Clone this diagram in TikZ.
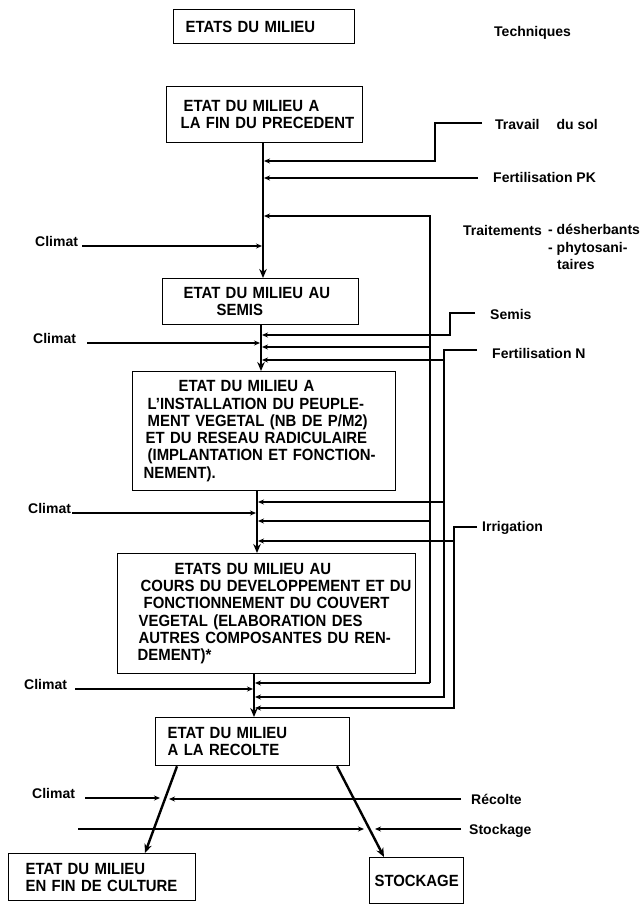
\documentclass[tikz,border=0pt]{standalone}
\usepackage{fontspec}
\setmainfont{Liberation Sans}
\newfontfamily\bxfam{Liberation Sans}[FakeStretch=0.92]
\usetikzlibrary{arrows.meta,calc}
\newcommand\bxfont{\bxfam\fontsize{16.2}{17.3}\selectfont\bfseries}
\newcommand\lbfont{\fontsize{14}{17.5}\selectfont\bfseries}

\begin{document}
\begin{tikzpicture}[x=1pt,y=-1pt,
  box/.style={draw, line width=1.3pt, inner sep=0pt, anchor=north west, align=left, font=\bxfont},
  lbl/.style={inner sep=0pt, font=\lbfont, text depth=0pt, text height=10pt, anchor=west},
  clim/.style={inner sep=0pt, font=\lbfont, anchor=base west},
  flow/.style={line width=2.4pt, -{Stealth[length=9pt,width=7.5pt]}},
  feed/.style={line width=1.2pt, shorten >=1pt, -{Stealth[length=6pt,width=5pt]}},
]
\useasboundingbox (0,0) rectangle (644,910);
\fill[white] (0,0) rectangle (644,910);

% ---- headings ----
\node[box, minimum width=181pt, minimum height=34pt, text width=181pt] (hdr) at (173,9)
  {\mbox{\hspace*{12pt}ETATS DU MILIEU}};
\node[lbl] (tech) at (494,31) {Techniques};

% ---- states of the field ----
\node[box, minimum width=196pt, minimum height=56pt, text width=196pt] (b2) at (166,86)
  {\mbox{\hspace*{17pt}ETAT DU MILIEU A}\\
   \mbox{\hspace*{14pt}LA FIN DU PRECEDENT}};
\node[box, minimum width=196pt, minimum height=46pt, text width=196pt] (b3) at (162,278)
  {\mbox{\hspace*{21pt}ETAT DU MILIEU AU}\\
   \mbox{\hspace*{54pt}SEMIS}};
\node[box, minimum width=263pt, minimum height=119pt, text width=263pt] (b4) at (132,371)
  {\mbox{\hspace*{46pt}ETAT DU MILIEU A}\\
   \mbox{\hspace*{15pt}L’INSTALLATION DU PEUPLE-}\\
   \mbox{\hspace*{15pt}MENT VEGETAL (NB DE P/M2)}\\
   \mbox{\hspace*{13pt}ET DU RESEAU RADICULAIRE}\\
   \mbox{\hspace*{15pt}(IMPLANTATION ET FONCTION-}\\
   \mbox{\hspace*{11pt}NEMENT).}};
\node[box, minimum width=298pt, minimum height=120pt, text width=298pt] (b5) at (117,553)
  {\mbox{\hspace*{57pt}ETATS DU MILIEU AU}\\
   \mbox{\hspace*{23pt}COURS DU DEVELOPPEMENT ET DU}\\
   \mbox{\hspace*{26pt}FONCTIONNEMENT DU COUVERT}\\
   \mbox{\hspace*{21pt}VEGETAL (ELABORATION DES}\\
   \mbox{\hspace*{21pt}AUTRES COMPOSANTES DU REN-}\\
   \mbox{\hspace*{20pt}DEMENT)*}};
\node[box, minimum width=194pt, minimum height=48pt, text width=194pt] (b6) at (155,717)
  {\mbox{\hspace*{12pt}ETAT DU MILIEU}\\
   \mbox{\hspace*{12pt}A LA RECOLTE}};
\node[box, minimum width=187pt, minimum height=47pt, text width=187pt] (b7) at (8,853)
  {\mbox{\hspace*{17pt}ETAT DU MILIEU}\\
   \mbox{\hspace*{17pt}EN FIN DE CULTURE}};
\node[box, align=center, minimum width=94pt, minimum height=46pt] (bst) at (369,857) {STOCKAGE};

% ---- main chain ----
\coordinate (m1) at (263,0);
\coordinate (m2) at (261,0);
\coordinate (m3) at (257,0);
\coordinate (m4) at (254,0);
\draw[flow] (b2.south -| m1) -- (b3.north -| m1);
\draw[flow] (b3.south -| m2) -- (b4.north -| m2);
\draw[flow] (b4.south -| m3) -- (b5.north -| m3);
\draw[flow] (b5.south -| m4) -- (b6.north -| m4);

% ---- climate inputs ----
\node[clim] (cl1) at (35,246) {Climat};
\node[clim] (cl2) at (33,343) {Climat};
\node[clim] (cl3) at (28,513) {Climat};
\node[clim] (cl4) at (24,689) {Climat};
\node[clim] (cl5) at (32,798) {Climat};
\draw[feed] ([xshift=4pt]cl1.base east) -- (cl1.base -| m1);
\draw[feed] ([xshift=11pt]cl2.base east) -- (cl2.base -| m2);
\draw[feed] ([xshift=1pt]cl3.base east) -- (cl3.base -| m3);
\draw[feed] ([xshift=8pt]cl4.base east) -- (cl4.base -| m4);

% ---- techniques ----
\node[lbl] (trav) at (495,124) {Travail\hspace{17pt}du sol};
\node[lbl] (fpk) at (493,177) {Fertilisation PK};
\node[lbl] (trt) at (463,230) {Traitements};
\node[inner sep=0pt, font=\lbfont, align=left, anchor=north west] (trtl) at (548,224.5)
  {- désherbants\\- phytosani-\\\hspace*{9pt}taires};
\node[lbl] (sem) at (490,314) {Semis};
\node[lbl] (fn) at (492,353) {Fertilisation N};
\node[lbl] (irr) at (482,526) {Irrigation};

% soil tillage
\coordinate (tv0) at (482,123);
\coordinate (tv1) at (435,161);
\draw[feed] (tv0) -| (tv1) -- (tv1 -| m1);
% PK fertilisation
\coordinate (fp0) at (478,178);
\draw[feed] (fp0) -- (fp0 -| m1);
% treatments
\coordinate (tr0) at (430,216);
\coordinate (trA) at (430,347);
\coordinate (trB) at (430,521);
\coordinate (tr1) at (430,683);
\draw[feed] (tr1) -- (tr0) -- (tr0 -| m1);
\draw[feed] (trA) -- (trA -| m2);
\draw[feed] (trB) -- (trB -| m3);
\draw[feed] (tr1) -- (tr1 -| m4);
% sowing
\coordinate (se0) at (475,313);
\coordinate (se1) at (450,335);
\draw[feed] (se0) -| (se1) -- (se1 -| m2);
% N fertilisation
\coordinate (fn0) at (477,350);
\coordinate (fnA) at (444,360);
\coordinate (fnB) at (444,502);
\coordinate (fn1) at (444,697);
\draw[feed] (fn0) -| (fn1) -- (fn1 -| m4);
\draw[feed] (fnA) -- (fnA -| m2);
\draw[feed] (fnB) -- (fnB -| m3);
% irrigation
\coordinate (ir0) at (477,527);
\coordinate (irA) at (454,541);
\coordinate (ir1) at (454,708);
\draw[feed] (ir0) -| (ir1) -- (ir1 -| m4);
\draw[feed] (irA) -- (irA -| m3);

% ---- harvest and storage ----
\coordinate (dl0) at (177,0);
\coordinate (dl1) at (145,0);
\coordinate (dr0) at (337,0);
\coordinate (dr1) at (384,0);
\draw[flow] (b6.south -| dl0) -- (b7.north -| dl1);
\draw[flow] (b6.south -| dr0) -- (bst.north -| dr1);

\node[lbl] (rec) at (471,799) {Récolte};
\node[lbl] (stk) at (469,829) {Stockage};
\coordinate (xl5) at (161,798);
\coordinate (xr5) at (168,799);
\draw[feed] ([xshift=10pt]cl5.base east) -- (xl5);
\draw[feed] ([xshift=-10pt]rec.west) -- (xr5);
\coordinate (lo0) at (78,829);
\coordinate (xl6) at (365,829);
\coordinate (xr6) at (374,829);
\draw[feed] (lo0) -- (xl6);
\draw[feed] ([xshift=-8pt]stk.west) -- (xr6);
\end{tikzpicture}
\end{document}
